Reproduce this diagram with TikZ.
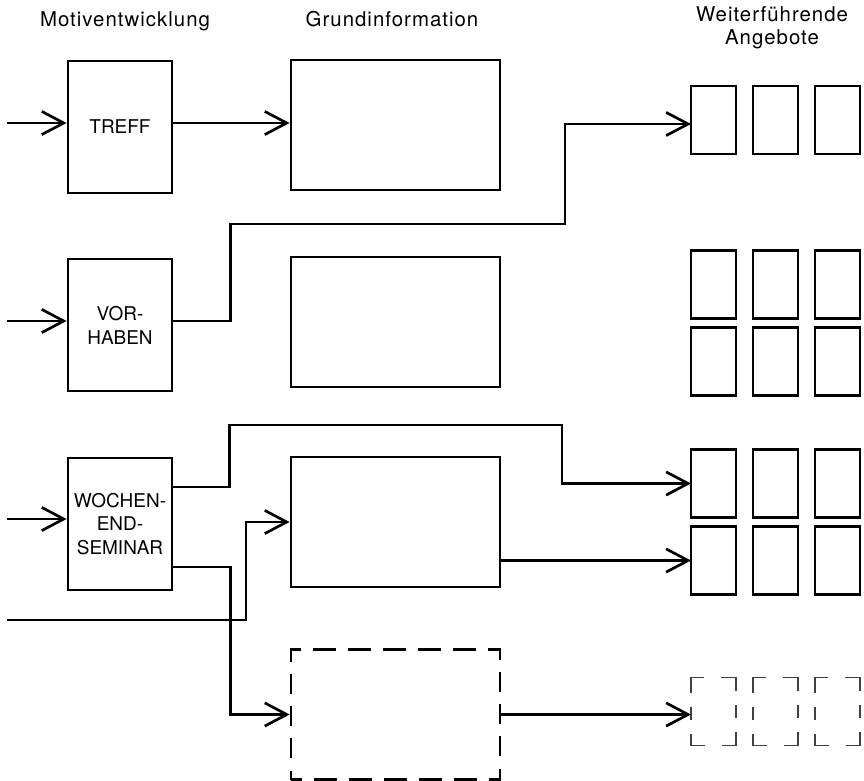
\documentclass[tikz,border=0pt]{standalone}
\usepackage{fontspec}
\setmainfont{TeX Gyre Heros}
\usetikzlibrary{positioning, calc, arrows.meta}
\tikzset{motiv/.style={draw, line width=2pt, minimum width=2.6cm, minimum height=3.3cm, inner sep=0pt, align=center, font=\fontsize{13.5}{17}\selectfont}}
\tikzset{grund/.style={draw, line width=2pt, minimum width=5.225cm, minimum height=3.25cm, inner sep=0pt}}
\tikzset{grundopt/.style={grund, dash pattern=on 5.5mm off 3mm on 5.75mm off 3mm on 5.75mm off 3mm on 5.75mm off 3mm on 5.75mm off 3mm on 5.75mm off 3mm on 5.5mm off 3.0625mm on 5mm off 3.0625mm on 5mm off 3.0625mm on 5mm off 3.0625mm, dash phase=2.75mm}}
\tikzset{angebot/.style={draw, line width=2pt, minimum width=1.125cm, minimum height=1.7cm, inner sep=0pt, outer sep=0pt}}
\tikzset{angebotopt/.style={angebot, line width=1.1pt, draw=black!75, dash pattern=on 7mm off 4.25mm on 7mm off 3.5mm on 3.25mm off 3.5mm, dash phase=3.5mm}}
\tikzset{head/.style={inner sep=0pt, align=center, font=\fontsize{14.5}{17}\selectfont\addfontfeatures{LetterSpace=5}}}
\tikzstyle{flow}=[line width=1.9pt, -{Straight Barb[length=5.5mm, width=5.8mm]}]

\begin{document}
\begin{tikzpicture}
      \useasboundingbox (0,0) rectangle (21.6,-19.525);

      % column heads
      \node[head, anchor=base] (h0) at (3.125,-0.675) {Motiventwicklung};
      \node[head, anchor=base] (h1) at (9.8,-0.675) {Grundinformation};
      \node[head, anchor=base] (h2) at (19.3,-1.125) {Weiterführende\\Angebote};

      % motivation
      \node[motiv] (treff) at (3,-3.175) {TREFF};
      \node[motiv] (vorhaben) at (3,-8.125) {VOR-\\HABEN};
      \node[motiv] (wochen) at (3,-13.1) {WOCHEN-\\END-\\SEMINAR};

      % basic information
      \node[grund] (g1) at (9.8875,-3.125) {};
      \node[grund] (g2) at (9.8875,-8.05) {};
      \node[grund] (g3) at (9.8875,-13.05) {};
      \node[grundopt] (g4) at (9.8875,-17.8625) {};

      % follow-up offers
      \node[angebot] (a0) at (17.8375,-3) {};
      \node[angebot, right=4.25mm of a0] (a1) {};
      \node[angebot, right=4.25mm of a1] (a2) {};

      \node[angebot] (b0) at (17.8375,-7.1125) {};
      \node[angebot, right=4.25mm of b0] (b1) {};
      \node[angebot, right=4.25mm of b1] (b2) {};
      \node[angebot, below=2.25mm of b0] (b3) {};
      \node[angebot, below=2.25mm of b1] (b4) {};
      \node[angebot, below=2.25mm of b2] (b5) {};

      \node[angebot] (c0) at (17.8375,-12.0875) {};
      \node[angebot, right=4.25mm of c0] (c1) {};
      \node[angebot, right=4.25mm of c1] (c2) {};
      \node[angebot, below=2.25mm of c0] (c3) {};
      \node[angebot, below=2.25mm of c1] (c4) {};
      \node[angebot, below=2.25mm of c2] (c5) {};

      \node[angebotopt] (d0) at (17.8375,-17.7875) {};
      \node[angebotopt, right=4.25mm of d0] (d1) {};
      \node[angebotopt, right=4.25mm of d1] (d2) {};

      % entries
      \coordinate (in0) at (0.175,-3.075);
      \coordinate (in1) at (0.175,-8.025);
      \coordinate (in2) at (0.175,-12.975);
      \coordinate (in3) at (0.175,-15.5);

      \draw[flow] (in0) -- (in0 -| treff.west);
      \draw[flow] (in1) -- (in1 -| vorhaben.west);
      \draw[flow] (in2) -- (in2 -| wochen.west);

      % paths
      \draw[flow] (in0 -| treff.east) -- (in0 -| g1.west);
      \draw[flow] (in1 -| vorhaben.east) -- ++(1.425,0) |- (14.125,-5.6) |- ([yshift=-1mm]a0.west);
      \draw[flow] ([yshift=9.25mm]wochen.east) -- ++(1.4,0) |- (14.05,-10.625) |- (c0.west);
      \draw[flow] ([yshift=-10.75mm]wochen.east) -- ++(1.425,0) |- (g4.west);
      \draw[flow] (in3) -- (6.15,-15.5) |- (g3.west);
      \draw[flow] (g3.east |- c3.west) -- (c3.west);
      \draw[flow] (g4.east) -- (g4.east -| d0.west);
    \end{tikzpicture}
\end{document}
